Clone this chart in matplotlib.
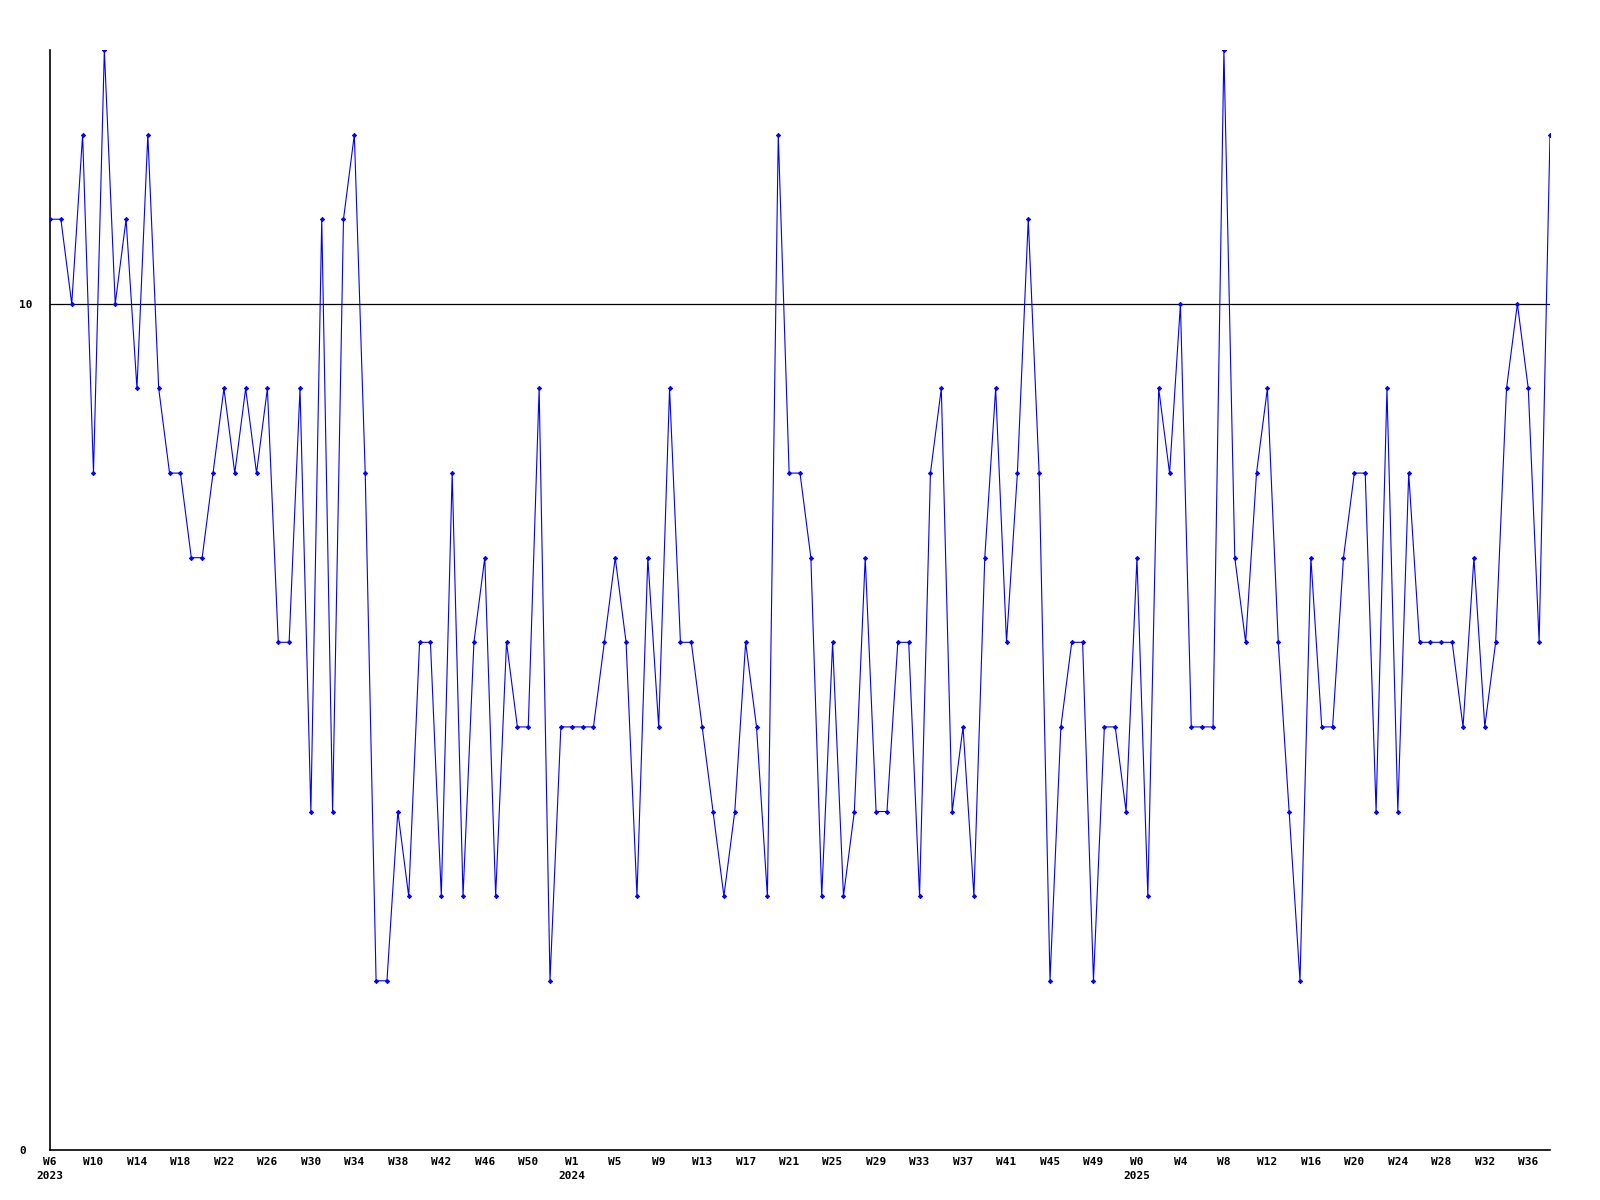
import matplotlib
matplotlib.use("Agg")
import matplotlib.pyplot as plt

# Weekly values, W6 2023 .. W38 2025 (139 points)
values = [
    11, 11, 10, 12, 8, 13, 10, 11, 9, 12,
    9, 8, 8, 7, 7, 8, 9, 8, 9, 8,
    9, 6, 6, 9, 4, 11, 4, 11, 12, 8,
    2, 2, 4, 3, 6, 6, 3, 8, 3, 6,
    7, 3, 6, 5, 5, 9, 2, 5, 5, 5,
    5, 6, 7, 6, 3, 7, 5, 9, 6, 6,
    5, 4, 3, 4, 6, 5, 3, 12, 8, 8,
    7, 3, 6, 3, 4, 7, 4, 4, 6, 6,
    3, 8, 9, 4, 5, 3, 7, 9, 6, 8,
    11, 8, 2, 5, 6, 6, 2, 5, 5, 4,
    7, 3, 9, 8, 10, 5, 5, 5, 13, 7,
    6, 8, 9, 6, 4, 2, 7, 5, 5, 7,
    8, 8, 4, 9, 4, 8, 6, 6, 6, 6,
    5, 7, 5, 6, 9, 10, 9, 6, 12,
]

week_labels = ["W6", "W10", "W14", "W18", "W22", "W26", "W30", "W34", "W38",
               "W42", "W46", "W50", "W1", "W5", "W9", "W13", "W17", "W21",
               "W25", "W29", "W33", "W37", "W41", "W45", "W49", "W0", "W4",
               "W8", "W12", "W16", "W20", "W24", "W28", "W32", "W36"]
year_labels = {"W6": "2023", "W1": "2024", "W0": "2025"}
y_ticks = [0, 10]

fig = plt.figure(figsize=(16, 12), dpi=100)
ax = fig.add_axes([50 / 1600, 50 / 1200, 1500 / 1600, 1100 / 1200])

x = list(range(len(values)))
ax.plot(x, values, color="#0000ff", lw=0.8, marker="D", ms=2.2, mew=0.6, zorder=3)
ax.axhline(10, color="black", lw=0.9, zorder=2)

ax.set_xlim(0, len(values) - 1)
ax.set_ylim(0, 13)

for s in ("top", "right"):
    ax.spines[s].set_visible(False)
for s in ("left", "bottom"):
    ax.spines[s].set_color("black")
    ax.spines[s].set_linewidth(1.2)

font = dict(family="DejaVu Sans Mono", weight="bold", size=8)

tick_pos = list(range(0, len(values), 4))[:len(week_labels)]
labels = [w + ("\n" + year_labels[w] if w in year_labels and i in (0, 12, 25) else "")
          for i, w in enumerate(week_labels)]
ax.set_xticks(tick_pos)
ax.set_xticklabels(labels, fontdict=font, linespacing=1.45, va="top")
ax.tick_params(axis="x", length=0, pad=5)

ax.set_yticks(y_ticks)
ax.set_yticklabels([str(v) for v in y_ticks], fontdict=font, ha="left")
ax.tick_params(axis="y", length=0, pad=22)

fig.savefig("out.png", dpi=100, facecolor="white")
